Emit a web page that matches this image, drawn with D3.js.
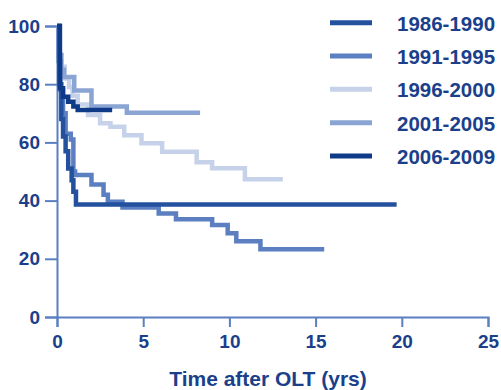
<!DOCTYPE html>
<html>
<head>
<meta charset="utf-8">
<script src="https://cdn.jsdelivr.net/npm/d3@7"></script>
<style>
  body { margin: 0; background: #fff; }
  svg text { font-family: "Liberation Sans", Arial, sans-serif; font-weight: bold; fill: #1b3f8b; }
</style>
</head>
<body>
<svg id="chart"></svg>
<script>
// survival (%) by era, step points [years, percent]; last point marks end of follow-up
const era1986 = [[0,100],[0.15,80],[0.25,68],[0.35,62],[0.5,57],[0.65,51],[0.85,47],[0.95,43],[1.1,38.7],[19.7,38.7]];
const era1991 = [[0,100],[0.1,88],[0.2,78],[0.35,70],[0.5,63],[0.8,61],[0.95,50],[1.05,48.8],[2.0,45.5],[2.7,42],[2.95,39.6],[3.8,37.6],[5.9,35.6],[6.9,33.6],[9.0,31.6],[9.9,28.8],[10.4,26],[11.8,23.3],[15.5,23.3]];
const era1996 = [[0,100],[0.1,90],[0.25,86],[0.45,82],[0.7,79],[0.9,76],[1.2,73],[1.8,69.4],[2.5,66.6],[3.1,65.4],[3.9,62.5],[4.9,59.7],[6.1,56.8],[8.1,53.2],[9.0,51.1],[10.9,47.3],[13.1,47.3]];
const era2001 = [[0,100],[0.1,90],[0.25,85],[0.4,82.5],[1.0,77.8],[2.0,72.3],[4.05,70.2],[8.3,70.2]];
const era2006 = [[0,100],[0.17,78.6],[0.35,75.7],[0.65,74],[0.95,72.3],[1.2,71.1],[3.2,71.1]];

const labels = ["1986-1990", "1991-1995", "1996-2000", "2001-2005", "2006-2009"];
const curves = [era1986, era1991, era1996, era2001, era2006];
const xTicks = [0, 5, 10, 15, 20, 25];
const yTicks = [0, 20, 40, 60, 80, 100];
const xTitle = "Time after OLT (yrs)";

const palette = ["#24519e", "#5b7fc0", "#c6d2e9", "#8aa4d3", "#0e3a88"];
const drawOrder = [2, 3, 1, 0, 4];

const width = 501, height = 390;
const svg = d3.select("#chart").attr("width", width).attr("height", height);

const x = d3.scaleLinear().domain([0, 25]).range([57, 488]);
const y = d3.scaleLinear().domain([0, 100]).range([317, 26]);

const axisColor = "#5b7fc0";

const gx = svg.append("g")
  .attr("transform", `translate(0,${y(0)})`)
  .call(d3.axisBottom(x).tickValues(xTicks).tickSize(10).tickPadding(7).tickFormat(d3.format("d")));
const gy = svg.append("g")
  .attr("transform", `translate(${x(0)},0)`)
  .call(d3.axisLeft(y).tickValues(yTicks).tickSize(12).tickPadding(5).tickFormat(d3.format("d")));

[gx, gy].forEach(g => {
  g.select(".domain").attr("stroke", axisColor).attr("stroke-width", 2);
  g.selectAll(".tick line").attr("stroke", axisColor).attr("stroke-width", 2);
  g.selectAll(".tick text").attr("fill", "#1b3f8b").style("font-size", "19px")
    .style("font-family", "'Liberation Sans', Arial, sans-serif").style("font-weight", "bold");
});
gx.selectAll(".tick text").attr("dy", "0.75em");

const line = d3.line()
  .x(d => x(d[0]))
  .y(d => y(d[1]))
  .curve(d3.curveStepAfter);

svg.append("g").selectAll("path")
  .data(drawOrder)
  .join("path")
  .attr("d", i => line(curves[i]))
  .attr("fill", "none")
  .attr("stroke", i => palette[i])
  .attr("stroke-width", 4.5)
  .attr("stroke-linejoin", "miter");

// legend
const legend = svg.append("g");
const ly = d3.scalePoint().domain(labels).range([22.7, 156]);
labels.forEach((lab, i) => {
  legend.append("line")
    .attr("x1", 330).attr("x2", 372)
    .attr("y1", ly(lab)).attr("y2", ly(lab))
    .attr("stroke", palette[i]).attr("stroke-width", 5);
  legend.append("text")
    .attr("x", 397).attr("y", ly(lab) + 8)
    .style("font-size", "20.5px")
    .text(lab);
});

svg.append("text")
  .attr("x", 268).attr("y", 386)
  .attr("text-anchor", "middle")
  .style("font-size", "21px")
  .text(xTitle);
</script>
</body>
</html>
